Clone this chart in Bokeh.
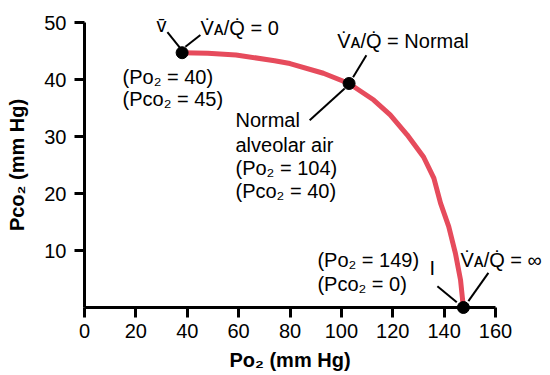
from bokeh.plotting import figure
from bokeh.models import FixedTicker, ColumnDataSource
from bokeh.core.properties import value
from bokeh.embed import file_html
from bokeh.resources import INLINE

# ---- data ----
po2_curve = [38, 48, 59, 74, 80, 93, 103, 112.6, 119, 125.6, 132, 136, 138.6, 141.8, 144.4, 146.4, 147.5]
pco2_curve = [44.7, 44.6, 44.3, 43.3, 42.8, 41.1, 39.3, 36.4, 33.8, 30.3, 26.4, 22.7, 18.3, 14.2, 9.5, 4.8, 0]
point_po2 = [38, 103, 147.5]
point_pco2 = [44.7, 39.3, 0]
x_ticks = [0, 20, 40, 60, 80, 100, 120, 140, 160]
y_ticks = [10, 20, 30, 40, 50]

VAQ = "V\u0307\u1D00/Q\u0307"
FONT = "Liberation Sans"

W, H = 550, 375
ML, MR, MT, MB = 84, 55, 22, 68
XMIN, XMAX, YMIN, YMAX = 0, 160, 0, 50
XS = (W - ML - MR) / (XMAX - XMIN)
YS = (H - MT - MB) / (YMAX - YMIN)

p = figure(width=W, height=H, x_range=(XMIN, XMAX), y_range=(YMIN, YMAX),
           output_backend="svg", toolbar_location=None,
           min_border_left=ML, min_border_right=MR, min_border_top=MT, min_border_bottom=MB)
p.outline_line_color = None
p.grid.visible = False

for ax in (p.xaxis[0], p.yaxis[0]):
    ax.axis_line_width = 3
    ax.major_tick_line_width = 3
    ax.major_tick_out = 10
    ax.major_tick_in = 0
    ax.minor_tick_line_color = None
    ax.major_label_text_font = FONT
    ax.major_label_text_font_size = "20px"
    ax.major_label_text_color = "black"
    ax.axis_label_text_font = FONT
    ax.axis_label_text_font_size = "20px"
    ax.axis_label_text_font_style = "bold"
    ax.axis_label_text_color = "black"
p.xaxis.major_label_standoff = 6
p.yaxis.major_label_standoff = 8
p.xaxis.ticker = FixedTicker(ticks=x_ticks)
p.yaxis.ticker = FixedTicker(ticks=y_ticks)
p.xaxis.axis_label = "Po\u2082 (mm Hg)"
p.yaxis.axis_label = "Pco\u2082 (mm Hg)"
p.xaxis.axis_label_standoff = 8
p.yaxis.axis_label_standoff = 13

p.line(po2_curve, pco2_curve, line_width=5, line_color="#E64B5C", line_cap="round",
       line_join="round")


def off(i, dx, dy):
    return point_po2[i] + dx / XS, point_pco2[i] - dy / YS


# leader lines (pixel offsets from each point)
leaders = [(0, -14.7, -20.7, -1.7, -4.4), (0, 3.3, -6, 18.3, -17.7),
           (1, 4, -6.3, 17.3, -28.3), (1, -4.4, 5, -39.4, 36.7),
           (2, -26, -21.3, -6.6, -5.3), (2, 5, -6.3, 25, -34.7)]
x0, y0, x1, y1 = [], [], [], []
for i, a, b, c, d in leaders:
    xa, ya = off(i, a, b)
    xb, yb = off(i, c, d)
    x0.append(xa); y0.append(ya); x1.append(xb); y1.append(yb)
p.segment(x0=x0, y0=y0, x1=x1, y1=y1, line_color="black", line_width=2, level="overlay")

p.scatter(point_po2, point_pco2, size=12, color="black", level="overlay")

labels = [
    (0, "v\u0304", -20.6, -27.5, "center"),
    (0, VAQ + " = 0", 18.4, -24.5, "left"),
    (0, "(Po\u2082 = 40)", -59.6, 24.5, "left"),
    (0, "(Pco\u2082 = 45)", -59.6, 46.5, "left"),
    (1, VAQ + " = Normal", -11.9, -42.4, "left"),
    (1, "Normal", -113.6, 36.6, "left"),
    (1, "alveolar air", -113.6, 61.6, "left"),
    (1, "(Po\u2082 = 104)", -113.6, 84.6, "left"),
    (1, "(Pco\u2082 = 40)", -113.6, 107.6, "left"),
    (2, "I", -31, -39.6, "center"),
    (2, VAQ + " = \u221e", -3, -47.6, "left"),
    (2, "(Po\u2082 = 149)", -146, -48, "left"),
    (2, "(Pco\u2082 = 0)", -146, -23.6, "left"),
]
src = ColumnDataSource(dict(
    x=[point_po2[l[0]] for l in labels], y=[point_pco2[l[0]] for l in labels],
    text=[l[1] for l in labels], xo=[l[2] for l in labels], yo=[l[3] for l in labels],
    align=[l[4] for l in labels]))
p.text(x="x", y="y", text="text", x_offset="xo", y_offset="yo", text_align="align",
       source=src, text_font=value(FONT), text_font_size="20px", text_color="black",
       text_baseline="middle", level="overlay")

open("out.html", "w").write(file_html(p, INLINE))
